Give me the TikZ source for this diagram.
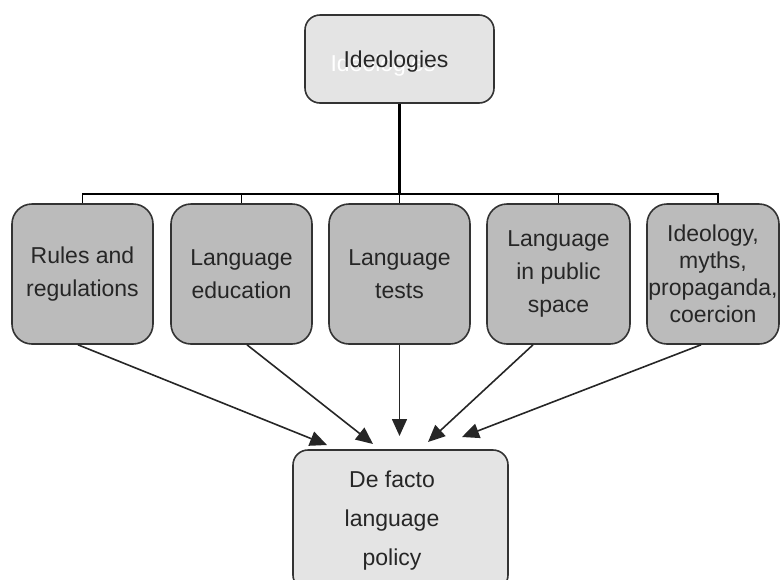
\documentclass[tikz,border=0pt]{standalone}
\usepackage{fontspec}
\setmainfont{Liberation Sans}
\usetikzlibrary{arrows.meta}
\definecolor{boxgray}{HTML}{BBBBBB}
\definecolor{boxlight}{HTML}{E4E4E4}
\definecolor{edgec}{HTML}{333333}
\begin{document}
\begin{tikzpicture}[x=1pt,y=-1pt,
  graybox/.style={draw=edgec, line width=1.6pt, fill=boxgray, rounded corners=20pt,
    minimum width=141pt, minimum height=140pt, align=center, inner sep=1pt,
    font=\fontsize{23}{33}\selectfont, text=black!85},
  lightbox/.style={draw=edgec, line width=1.6pt, fill=boxlight, rounded corners=15pt},
  lbl/.style={font=\fontsize{23}{39}\selectfont, align=center, text=black!85, inner sep=0pt},
  thinline/.style={draw=black, line width=1.5pt},
  midline/.style={draw=black, line width=2.3pt},
  thickline/.style={draw=black, line width=3pt},
  arr/.style={draw=black!85, line width=1.6pt, -{Triangle[length=17pt,width=15pt]}}
]
\useasboundingbox (0,0) rectangle (781,579);
\clip (0,0) rectangle (781,579);

% top box
\node[lightbox, minimum width=189pt, minimum height=88pt] (ideo) at (399.5,59) {};
\node[lbl, text=white] (ghost) at (383,66) {Ideologies};
\node[lbl] (ideot) at (396,62) {Ideologies};

% middle boxes
\node[graybox] (b1) at (82.5,274) {Rules and\\regulations};
\node[graybox] (b2) at (241.5,274) {Language\\education};
\node[graybox] (b3) at (399.5,274) {Language\\tests};
\node[graybox, minimum width=143pt] (b4) at (558.5,274) {Language\\in public\\space};
\node[graybox, minimum width=132pt, font=\fontsize{23}{27}\selectfont] (b5) at (713,274) {Ideology,\\myths,\\propaganda,\\coercion};

% bottom box
\node[lightbox, minimum width=215pt, minimum height=140pt] (dfp) at (400.5,520) {};
\node[lbl] (dfpt) at (392,521) {De facto\\language\\policy};

% tree connectors
\coordinate (bus) at (399.5,194);
\draw[thickline] (ideo.south) -- (bus);
\draw[thinline] (b1.north) -- (b1.north |- bus) -- ([xshift=5pt]b5.north |- bus) -- ([xshift=5pt]b5.north);
\draw[midline] (b2.north |- bus) -- (b4.north |- bus);
\draw[thinline] (b2.north) -- (b2.north |- bus);
\draw[thinline] (b3.north) -- (b3.north |- bus);
\draw[thinline] (b4.north) -- (b4.north |- bus);

% arrow tips
\coordinate (t1) at (327,445);
\coordinate (t2) at (373,444);
\coordinate (t3) at (399.5,436);
\coordinate (t4) at (428,442);
\coordinate (t5) at (462,437);

\draw[arr] ([xshift=-4.5pt]b1.south) -- (t1);
\draw[arr] ([xshift=5.5pt]b2.south) -- (t2);
\draw[arr] (b3.south) -- (t3);
\draw[arr] ([xshift=-25.5pt]b4.south) -- (t4);
\draw[arr] ([xshift=-12pt]b5.south) -- (t5);
\end{tikzpicture}
\end{document}
